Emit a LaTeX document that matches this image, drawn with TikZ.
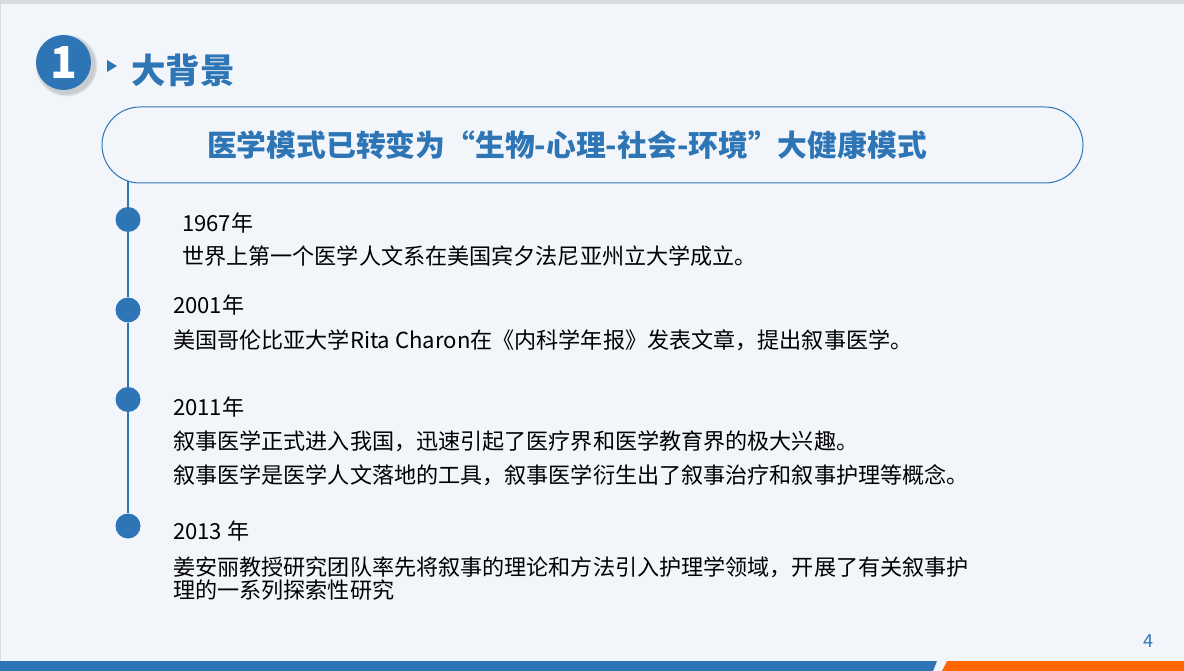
\documentclass[tikz,border=0pt]{standalone}
\usepackage{fontspec}
\newfontfamily\cjk{Noto Sans CJK SC}
\definecolor{bg}{HTML}{F2F6FB}
\definecolor{mblue}{HTML}{2E75B6}
\definecolor{morange}{HTML}{FF6600}
\definecolor{edgegray}{HTML}{D9DBDF}
\tikzset{
  body/.style={anchor=base west, inner sep=0pt, text=black, font=\cjk\fontsize{22.1}{26}\selectfont},
  dot/.style={circle, fill=mblue, minimum size=25pt, inner sep=0pt},
  tl/.style={draw=mblue, line width=1.2pt}
}
\begin{document}
\begin{tikzpicture}[x=1pt,y=-1pt]
\useasboundingbox (0,0) rectangle (1184,671);
\fill[bg] (0,0) rectangle (1184,671);
\fill[edgegray] (0,0) rectangle (1184,4.5);
\fill[edgegray] (0,0) rectangle (1.2,661);
% bottom bar
\fill[mblue] (0,661) -- (937,661) -- (933,671) -- (0,671) -- cycle;
\fill[morange] (947,661) -- (1184,661) -- (1184,671) -- (942,671) -- cycle;
% header
\foreach \o/\r in {0.06/31,0.06/30,0.06/29}{\fill[black,opacity=\o] (66.5,65.5) circle (\r);}
\node[circle, fill=mblue, minimum size=55pt, inner sep=0pt, text=white, font=\cjk\bfseries\fontsize{44}{44}\selectfont] (num) at (63.5,62.5) {1};
\fill[mblue] (107,60) -- (117,66) -- (107,72) -- cycle;
\node[anchor=base west, inner sep=0pt, text=mblue, font=\cjk\bfseries\fontsize{34.5}{40}\selectfont] (head) at (131,84) {大背景};
% title box
\node[draw=mblue, line width=1pt, rounded corners=38pt, minimum width=981pt, minimum height=76pt, inner sep=0pt] (box) at (592.5,145) {};
\node[anchor=base, inner sep=0pt, text=mblue, font=\cjk\bfseries\fontsize{29.8}{34}\selectfont] (title) at (567,157) {医学模式已转变为“生物-心理-社会-环境”大健康模式};
% timeline
\coordinate (ltop) at (128,181);
\node[dot] (d1) at (128,219.5) {};
\node[dot] (d2) at (128,310) {};
\node[dot] (d3) at (128,399.5) {};
\node[dot] (d4) at (128,526) {};
\draw[tl] (ltop) -- (d1) -- (d2) -- (d3) -- (d4);
% texts
\node[body] (y1) at (182,232) {1967年};
\node[body] (t1) at (182,265) {世界上第一个医学人文系在美国宾夕法尼亚州立大学成立。};
\node[body] (y2) at (173,313) {2001年};
\node[body] (t2) at (173,348) {美国哥伦比亚大学Rita Charon在《内科学年报》发表文章，提出叙事医学。};
\node[body] (y3) at (173,415) {2011年};
\node[body] (t3a) at (173,449) {叙事医学正式进入我国，迅速引起了医疗界和医学教育界的极大兴趣。};
\node[body] (t3b) at (173,483) {叙事医学是医学人文落地的工具，叙事医学衍生出了叙事治疗和叙事护理等概念。};
\node[body] (y4) at (173,539) {2013 年};
\node[body] (t4a) at (173,575) {姜安丽教授研究团队率先将叙事的理论和方法引入护理学领域，开展了有关叙事护};
\node[body] (t4b) at (173,598) {理的一系列探索性研究};
\node[anchor=base, inner sep=0pt, text=mblue, font=\cjk\fontsize{18}{20}\selectfont] (page) at (1148,647) {4};
\end{tikzpicture}
\end{document}
